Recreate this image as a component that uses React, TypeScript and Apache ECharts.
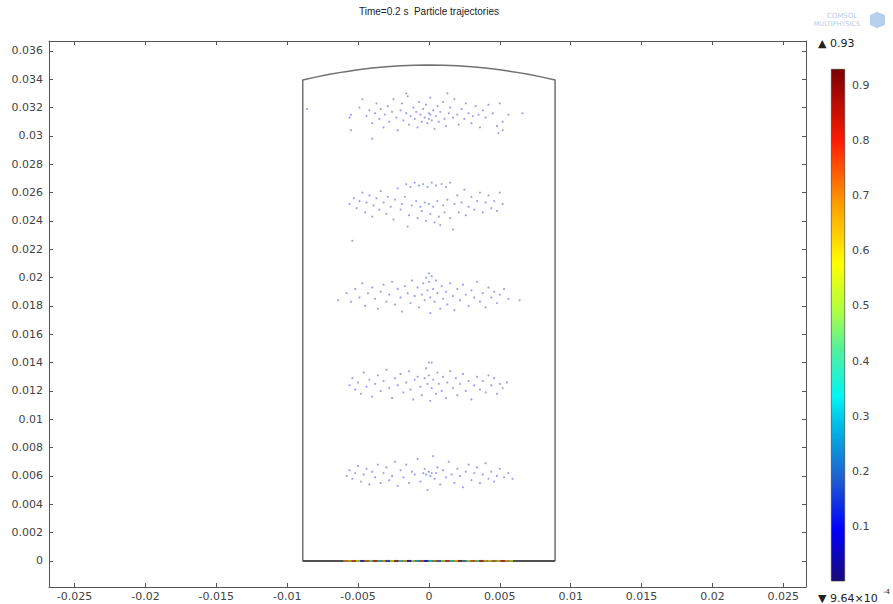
import React, { useEffect, useRef } from 'react';
import * as echarts from 'echarts';

// Tick labels
const xTicks = [-0.025, -0.02, -0.015, -0.01, -0.005, 0, 0.005, 0.01, 0.015, 0.02, 0.025];
const yTicks = [0, 0.002, 0.004, 0.006, 0.008, 0.01, 0.012, 0.014, 0.016, 0.018, 0.02, 0.022, 0.024, 0.026, 0.028, 0.03, 0.032, 0.034, 0.036];
const colorbarTicks = [0.1, 0.2, 0.3, 0.4, 0.5, 0.6, 0.7, 0.8, 0.9];
const colorRangeMin = 0.000964;
const colorRangeMax = 0.93;

// Vessel outline (mm)
const vesselWall = [[-8.9, 0], [-8.9, 33.94], [-8, 34.15], [-7, 34.35], [-6, 34.52], [-5, 34.67], [-4, 34.79], [-3, 34.88], [-2, 34.95], [-1, 34.99], [0, 35.0], [1, 34.99], [2, 34.95], [3, 34.88], [4, 34.79], [5, 34.67], [6, 34.52], [7, 34.35], [8, 34.15], [8.9, 33.94], [8.9, 0]];
const vesselBottom = [[-8.9, 0], [8.9, 0]];

// Particle positions (mm)
const cloud1 = [[-8.6, 31.9], [-5.6, 31.3], [-5.5, 30.4], [-5.5, 31.5], [-4.9, 32.0], [-4.7, 32.6], [-4.4, 31.4], [-4.2, 31.8], [-4.0, 30.9], [-4.0, 29.8], [-3.8, 31.6], [-3.7, 32.3], [-3.5, 31.2], [-3.4, 31.9], [-3.2, 30.6], [-3.1, 31.5], [-2.9, 32.1], [-2.8, 31.0], [-2.6, 31.7], [-2.5, 32.6], [-2.3, 31.3], [-2.2, 30.4], [-2.0, 31.8], [-1.9, 32.3], [-1.8, 31.1], [-1.6, 31.6], [-1.6, 33.0], [-1.5, 32.8], [-1.4, 30.8], [-1.3, 31.4], [-1.1, 32.0], [-1.0, 31.2], [-0.9, 31.7], [-0.8, 30.6], [-0.7, 32.4], [-0.6, 31.5], [-0.5, 31.0], [-0.4, 31.9], [-0.3, 31.3], [-0.2, 32.2], [-0.1, 30.9], [0.0, 31.6], [0.0, 31.2], [0.1, 32.7], [0.1, 31.5], [0.2, 31.1], [0.3, 31.8], [0.4, 30.5], [0.5, 31.4], [0.6, 32.1], [0.7, 31.0], [0.8, 31.7], [1.0, 32.4], [1.1, 31.2], [1.2, 30.7], [1.3, 33.0], [1.4, 31.6], [1.5, 32.0], [1.7, 31.3], [1.8, 32.6], [2.0, 31.5], [2.1, 30.8], [2.3, 31.9], [2.5, 31.2], [2.6, 32.3], [2.8, 31.6], [3.0, 30.9], [3.1, 31.4], [3.3, 32.1], [3.5, 31.5], [3.6, 30.6], [3.8, 31.8], [4.0, 31.3], [4.2, 32.2], [4.5, 31.6], [4.8, 30.7], [4.9, 30.2], [5.0, 32.3], [5.2, 31.0], [5.2, 30.4], [5.6, 31.5], [6.6, 31.6]];
const cloud2 = [[-5.6, 25.2], [-5.4, 22.6], [-5.3, 25.6], [-5.1, 24.9], [-4.9, 25.4], [-4.7, 26.0], [-4.5, 24.6], [-4.4, 25.3], [-4.2, 25.8], [-4.0, 24.3], [-3.9, 25.1], [-3.7, 25.6], [-3.5, 24.8], [-3.4, 26.1], [-3.2, 25.3], [-3.0, 24.5], [-2.9, 25.7], [-2.7, 25.0], [-2.5, 24.1], [-2.4, 25.5], [-2.2, 26.3], [-2.0, 24.8], [-1.9, 25.2], [-1.7, 25.7], [-1.6, 26.6], [-1.5, 23.6], [-1.4, 24.4], [-1.3, 26.4], [-1.2, 25.1], [-1.0, 26.7], [-0.9, 25.4], [-0.8, 24.2], [-0.7, 26.5], [-0.6, 25.0], [-0.5, 24.7], [-0.4, 26.6], [-0.3, 25.3], [-0.2, 24.0], [-0.1, 26.4], [0.0, 25.2], [0.1, 24.5], [0.2, 26.7], [0.3, 25.0], [0.4, 23.9], [0.5, 26.5], [0.6, 25.4], [0.7, 24.3], [0.8, 23.7], [0.9, 26.6], [1.0, 25.1], [1.1, 24.6], [1.2, 26.4], [1.3, 25.5], [1.5, 24.2], [1.5, 26.7], [1.7, 23.4], [1.8, 25.2], [2.0, 25.8], [2.1, 24.6], [2.3, 25.3], [2.5, 26.2], [2.6, 24.4], [2.8, 25.0], [3.0, 25.7], [3.2, 24.8], [3.4, 25.4], [3.6, 26.0], [3.8, 24.6], [4.0, 25.3], [4.2, 25.8], [4.4, 24.9], [4.6, 25.4], [4.8, 24.7], [5.0, 26.0], [5.2, 25.2]];
const cloud3 = [[-6.4, 18.4], [-5.8, 18.9], [-5.5, 18.3], [-5.2, 19.2], [-4.9, 18.6], [-4.7, 19.6], [-4.5, 18.0], [-4.3, 18.9], [-4.0, 19.3], [-3.8, 18.5], [-3.6, 17.8], [-3.4, 19.0], [-3.2, 19.5], [-3.0, 18.3], [-2.8, 18.8], [-2.6, 19.7], [-2.4, 18.1], [-2.2, 19.2], [-2.0, 18.6], [-1.9, 17.6], [-1.7, 19.4], [-1.5, 18.9], [-1.3, 18.2], [-1.2, 19.8], [-1.0, 18.7], [-0.8, 19.3], [-0.7, 17.9], [-0.5, 18.8], [-0.4, 19.6], [-0.3, 18.4], [-0.2, 20.0], [-0.1, 19.1], [0.0, 20.3], [0.0, 19.7], [0.1, 18.6], [0.1, 17.5], [0.2, 20.1], [0.3, 19.2], [0.4, 18.3], [0.5, 19.8], [0.6, 18.9], [0.8, 17.8], [0.9, 19.4], [1.0, 18.5], [1.2, 19.0], [1.3, 18.1], [1.5, 19.6], [1.7, 18.7], [1.8, 17.7], [2.0, 19.2], [2.2, 18.4], [2.4, 19.5], [2.6, 18.8], [2.8, 18.0], [3.0, 19.1], [3.2, 18.6], [3.4, 19.7], [3.6, 18.3], [3.8, 18.9], [4.0, 17.9], [4.2, 19.3], [4.4, 18.6], [4.6, 19.0], [4.8, 18.2], [5.0, 18.8], [5.3, 19.2], [5.6, 18.5], [6.4, 18.4]];
const cloud4 = [[-5.6, 12.4], [-5.4, 12.9], [-5.2, 12.1], [-5.0, 12.6], [-4.8, 11.8], [-4.6, 13.3], [-4.4, 12.3], [-4.2, 12.8], [-4.0, 11.6], [-3.8, 12.5], [-3.6, 13.1], [-3.4, 12.0], [-3.2, 12.7], [-3.0, 13.5], [-2.8, 12.2], [-2.6, 11.5], [-2.4, 12.9], [-2.2, 12.4], [-2.0, 13.2], [-1.8, 11.9], [-1.6, 12.6], [-1.4, 13.4], [-1.3, 12.1], [-1.1, 11.4], [-1.0, 12.8], [-0.8, 13.0], [-0.6, 12.3], [-0.5, 11.7], [-0.3, 12.9], [-0.2, 13.6], [-0.1, 12.5], [0.0, 14.0], [0.0, 13.1], [0.1, 11.3], [0.2, 14.0], [0.2, 12.2], [0.3, 12.8], [0.5, 11.8], [0.6, 13.3], [0.7, 12.5], [0.9, 12.0], [1.0, 13.0], [1.2, 11.5], [1.3, 12.6], [1.5, 13.4], [1.7, 12.2], [1.9, 12.9], [2.0, 11.7], [2.2, 12.5], [2.4, 13.2], [2.6, 12.0], [2.8, 12.7], [3.0, 11.4], [3.2, 12.4], [3.4, 13.0], [3.6, 12.1], [3.8, 12.7], [4.0, 11.9], [4.2, 13.1], [4.4, 12.4], [4.6, 12.9], [4.8, 11.8], [5.0, 12.5], [5.2, 12.2], [5.5, 12.6]];
const cloud5 = [[-5.8, 6.0], [-5.6, 6.4], [-5.4, 5.8], [-5.2, 6.2], [-5.0, 6.7], [-4.8, 5.6], [-4.6, 6.1], [-4.4, 6.5], [-4.2, 5.4], [-4.0, 6.3], [-3.8, 5.9], [-3.6, 6.8], [-3.4, 5.5], [-3.2, 6.2], [-3.0, 6.6], [-2.8, 5.7], [-2.6, 6.0], [-2.4, 7.0], [-2.2, 5.3], [-2.0, 6.4], [-1.8, 5.9], [-1.6, 6.8], [-1.4, 5.5], [-1.2, 6.3], [-1.0, 6.1], [-0.8, 7.2], [-0.6, 5.6], [-0.4, 6.2], [-0.3, 6.5], [-0.2, 6.1], [-0.1, 5.0], [0.0, 6.3], [0.1, 6.0], [0.2, 6.2], [0.3, 7.4], [0.4, 5.8], [0.5, 6.2], [0.6, 6.6], [0.8, 5.4], [1.0, 6.4], [1.2, 5.9], [1.4, 7.0], [1.6, 6.1], [1.8, 5.5], [2.0, 6.5], [2.2, 6.0], [2.4, 5.2], [2.6, 6.3], [2.8, 6.8], [3.0, 5.7], [3.2, 6.2], [3.4, 6.6], [3.6, 5.5], [3.8, 6.1], [4.0, 6.9], [4.2, 5.8], [4.4, 6.3], [4.6, 5.6], [4.8, 6.0], [5.0, 6.5], [5.3, 5.9], [5.6, 6.2], [5.9, 5.8]];

// Settled particles on the floor: [x (mm), colour value]
const floorParticles = [[-5.9, 0.75], [-5.6, 0.68], [-5.3, 0.82], [-5.0, 0.62], [-4.7, 0.12], [-4.4, 0.78], [-4.1, 0.55], [-3.8, 0.85], [-3.5, 0.33], [-3.2, 0.72], [-2.9, 0.15], [-2.6, 0.65], [-2.3, 0.88], [-2.0, 0.42], [-1.7, 0.7], [-1.4, 0.08], [-1.1, 0.6], [-0.8, 0.3], [-0.5, 0.8], [-0.2, 0.1], [0.1, 0.36], [0.4, 0.74], [0.7, 0.2], [1.0, 0.58], [1.3, 0.83], [1.6, 0.4], [1.9, 0.68], [2.2, 0.9], [2.5, 0.25], [2.8, 0.63], [3.1, 0.79], [3.4, 0.5], [3.7, 0.86], [4.0, 0.7], [4.3, 0.6], [4.6, 0.77], [4.9, 0.66], [5.2, 0.84], [5.5, 0.72], [5.8, 0.62]];

const rainbow = ['#1a0a7a', '#0000ff', '#1f5fd0', '#00b8e6', '#00f5f5', '#50f0a0', '#b0ff40', '#ffff00', '#ff9a00', '#ff1a00', '#7a0000'];
const rainbowPos = [0, 0.1, 0.2, 0.3, 0.36, 0.45, 0.53, 0.62, 0.74, 0.86, 1];

const toM = (p: number[]) => [p[0] / 1000, p[1] / 1000];
const fmt = (v: number) => String(+Number(v).toPrecision(6));

const FONT = 'DejaVu Sans';

export default function App() {
  const ref = useRef<HTMLDivElement>(null);
  useEffect(() => {
    const chart = echarts.init(ref.current!, null, { renderer: 'svg' });
    const grad = new echarts.graphic.LinearGradient(0, 1, 0, 0,
      rainbow.map((c, i) => ({ offset: rainbowPos[i], color: c })));
    const cloudStyle = { color: 'rgba(55,65,225,0.62)' };
    const clouds = [cloud1, cloud2, cloud3, cloud4, cloud5].map((c) => ({
      type: 'scatter', xAxisIndex: 0, yAxisIndex: 0, symbolSize: 2.2,
      itemStyle: cloudStyle, data: c.map(toM), z: 3,
    }));
    const axisText = { fontSize: 11, color: '#444', fontFamily: FONT };
    const option: any = {
      animation: false,
      backgroundColor: '#fff',
      grid: [
        { left: 49, right: 87, top: 41, bottom: 17 },
        { left: 831, width: 14, top: 69, height: 512 },
      ],
      xAxis: [
        {
          type: 'value', gridIndex: 0, min: -0.0268, max: 0.0266, position: 'bottom',
          axisLine: { show: true, onZero: false, lineStyle: { color: '#555', width: 1 } },
          axisTick: { inside: true, length: 4, customValues: xTicks, lineStyle: { color: '#555' } },
          axisLabel: { customValues: xTicks, formatter: fmt, margin: 4, ...axisText },
          splitLine: { show: false },
        },
        {
          type: 'value', gridIndex: 0, min: -0.0268, max: 0.0266, position: 'top',
          axisLine: { show: true, onZero: false, lineStyle: { color: '#555', width: 1 } },
          axisTick: { inside: true, length: 4, customValues: xTicks, lineStyle: { color: '#555' } },
          axisLabel: { show: false },
          splitLine: { show: false },
        },
        { type: 'category', gridIndex: 1, data: ['c'], show: false },
      ],
      yAxis: [
        {
          type: 'value', gridIndex: 0, min: -0.00184, max: 0.0367, position: 'left',
          axisLine: { show: true, onZero: false, lineStyle: { color: '#555', width: 1 } },
          axisTick: { inside: true, length: 4, customValues: yTicks, lineStyle: { color: '#555' } },
          axisLabel: { customValues: yTicks, formatter: fmt, margin: 6, ...axisText },
          splitLine: { show: false },
        },
        {
          type: 'value', gridIndex: 0, min: -0.00184, max: 0.0367, position: 'right',
          axisLine: { show: true, onZero: false, lineStyle: { color: '#555', width: 1 } },
          axisTick: { inside: true, length: 4, customValues: yTicks, lineStyle: { color: '#555' } },
          axisLabel: { show: false },
          splitLine: { show: false },
        },
        {
          type: 'value', gridIndex: 1, min: colorRangeMin, max: colorRangeMax, position: 'right', z: 10,
          axisLine: { show: false },
          axisTick: { inside: true, length: 3, customValues: colorbarTicks, lineStyle: { color: '#333' } },
          axisLabel: { customValues: colorbarTicks, formatter: fmt, margin: 7, ...axisText },
          splitLine: { show: false },
        },
        {
          type: 'value', gridIndex: 1, min: colorRangeMin, max: colorRangeMax, position: 'left', z: 10,
          axisLine: { show: false },
          axisTick: { inside: true, length: 3, customValues: colorbarTicks, lineStyle: { color: '#333' } },
          axisLabel: { show: false },
          splitLine: { show: false },
        },
      ],
      visualMap: [{
        type: 'continuous', show: false, min: colorRangeMin, max: colorRangeMax,
        dimension: 2, seriesIndex: 7,
        inRange: { color: rainbow, colorAlpha: 0.7 },
      }],
      series: [
        {
          type: 'line', xAxisIndex: 0, yAxisIndex: 0, data: vesselWall.map(toM),
          showSymbol: false, symbol: 'none', lineStyle: { color: '#707070', width: 1.5 }, z: 2,
        },
        {
          type: 'line', xAxisIndex: 0, yAxisIndex: 0, data: vesselBottom.map(toM),
          showSymbol: false, symbol: 'none', lineStyle: { color: '#505050', width: 2 }, z: 2,
        },
        ...clouds,
        {
          type: 'scatter', xAxisIndex: 0, yAxisIndex: 0, symbol: 'rect', symbolSize: [4, 2], z: 4,
          data: floorParticles.map((p) => [p[0] / 1000, 0, p[1]]),
        },
        {
          type: 'bar', xAxisIndex: 2, yAxisIndex: 2, data: [colorRangeMax], barWidth: '100%',
          itemStyle: { color: grad, borderColor: '#333', borderWidth: 0.6 },
        },
      ],
      graphic: [
        {
          type: 'text', x: 429, y: 11,
          style: { text: 'Time=0.2 s  Particle trajectories', fontSize: 10, fontFamily: 'Liberation Sans', fill: '#222', align: 'center', verticalAlign: 'middle' },
        },
        {
          type: 'text', x: 842, y: 16,
          style: { text: 'COMSOL', fontSize: 7, fontFamily: FONT, fill: '#b9cde2', align: 'center', verticalAlign: 'middle' },
        },
        {
          type: 'text', x: 837, y: 24,
          style: { text: 'MULTIPHYSICS', fontSize: 6.5, fontFamily: FONT, fill: '#b9cde2', align: 'center', verticalAlign: 'middle' },
        },
        {
          type: 'polygon', shape: { points: [[877, 12], [885, 15], [885, 25], [877, 28], [870, 25], [870, 15]] },
          style: { fill: '#b4d0ec' },
        },
        {
          type: 'text', x: 818, y: 43,
          style: { text: '▲ 0.93', fontSize: 11, fontFamily: FONT, fill: '#222', align: 'left', verticalAlign: 'middle' },
        },
        {
          type: 'text', x: 818, y: 598,
          style: { text: '▼ 9.64×10', fontSize: 11, fontFamily: FONT, fill: '#222', align: 'left', verticalAlign: 'middle' },
        },
        {
          type: 'text', x: 883, y: 592,
          style: { text: '-4', fontSize: 7, fontFamily: FONT, fill: '#222', align: 'left', verticalAlign: 'middle' },
        },
      ],
    };
    chart.setOption(option);
    return () => chart.dispose();
  }, []);
  return <div ref={ref} style={{ position: 'absolute', left: 0, top: 0, width: 893, height: 604, background: '#fff' }} />;
}
